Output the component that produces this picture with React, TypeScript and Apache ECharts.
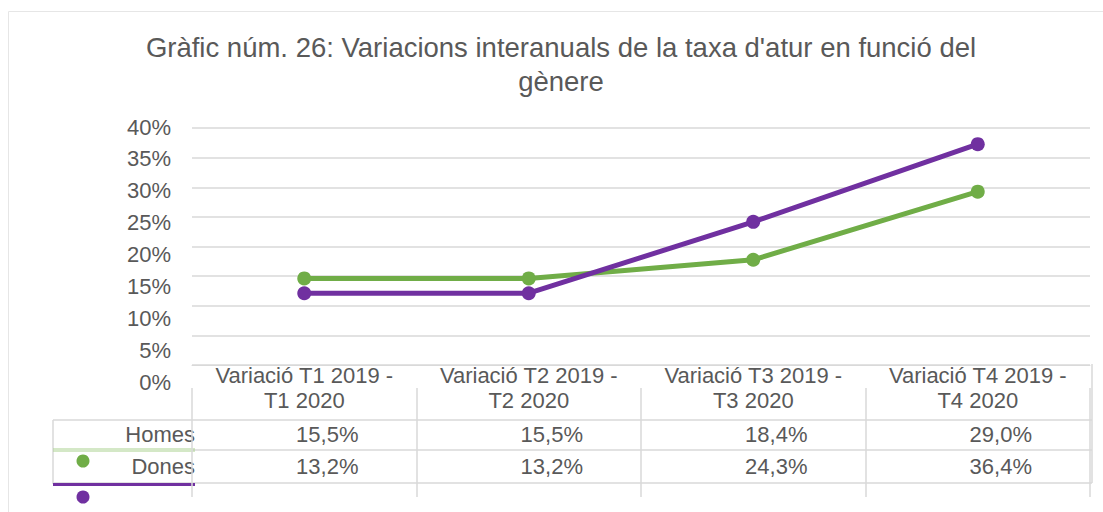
import React, { useEffect, useRef } from "react";
import * as echarts from "echarts";

const titleText = "Gràfic núm. 26: Variacions interanuals de la taxa d'atur en funció del\ngènere";
const categories = [
  "Variació T1 2019 -\nT1 2020",
  "Variació T2 2019 -\nT2 2020",
  "Variació T3 2019 -\nT3 2020",
  "Variació T4 2019 -\nT4 2020",
];
const seriesNames = ["Homes", "Dones"];
const homesValues = [15.5, 15.5, 18.4, 29.0];
const donesValues = [13.2, 13.2, 24.3, 36.4];
const yMin = 0;
const yMax = 40;
const yStep = 5;

const GREEN = "#70AD47";
const PURPLE = "#7030A0";
const TEXT = "#595959";
const GRIDC = "#d9d9d9";
const FONT = "'Liberation Sans', Arial, sans-serif";

const fmt = (v: number) => v.toFixed(1).replace(".", ",") + "%";

export default function App() {
  const ref = useRef<HTMLDivElement>(null);
  useEffect(() => {
    document.body.style.margin = "0";
    if (!ref.current) return;
    const chart = echarts.init(ref.current, undefined, { renderer: "svg" });
    const option: any = {
      animation: false,
      backgroundColor: "#ffffff",
      textStyle: { fontFamily: FONT },
      title: {
        text: titleText,
        left: 556,
        top: 25,
        textAlign: "center",
        textStyle: { color: TEXT, fontSize: 27.5, fontWeight: "normal", lineHeight: 34, fontFamily: FONT },
      },
      grid: [
        { left: 192, right: 13, top: 128, height: 237 },
        { left: 192, right: 13, top: 127, height: 255 },
        { left: 192, right: 13, top: 388, height: 109 },
        { left: 192, right: 13, top: 121, height: 257 },
      ],
      xAxis: [
        {
          gridIndex: 0,
          type: "category",
          data: categories,
          boundaryGap: true,
          axisLine: { show: true, lineStyle: { color: GRIDC, width: 1 } },
          axisTick: { show: false },
          axisLabel: { color: TEXT, fontSize: 22, lineHeight: 25, margin: -2, fontFamily: FONT, interval: 0 },
        },
        {
          gridIndex: 0,
          type: "category",
          data: homesValues.map(fmt),
          position: "bottom",
          axisLine: { show: false },
          axisTick: { show: false },
          axisLabel: { color: TEXT, fontSize: 22, lineHeight: 22, margin: 58, padding: [0, 0, 0, 46], fontFamily: FONT, interval: 0 },
        },
        {
          gridIndex: 0,
          type: "category",
          data: donesValues.map(fmt),
          position: "bottom",
          axisLine: { show: false },
          axisTick: { show: false },
          axisLabel: { color: TEXT, fontSize: 22, lineHeight: 22, margin: 90, padding: [0, 0, 0, 46], fontFamily: FONT, interval: 0 },
        },
        {
          gridIndex: 1,
          type: "category",
          data: categories,
          show: false,
        },
        {
          gridIndex: 2,
          type: "category",
          data: categories,
          axisLine: { show: false },
          axisTick: { show: false },
          axisLabel: { show: false },
          splitLine: { show: true, lineStyle: { color: GRIDC, width: 1.5 } },
        },
        {
          gridIndex: 3,
          type: "category",
          data: categories,
          boundaryGap: true,
          show: false,
        },
      ],
      yAxis: [
        {
          gridIndex: 0,
          type: "value",
          min: yMin,
          max: yMax,
          interval: yStep,
          axisLabel: { show: false },
          axisLine: { show: false },
          axisTick: { show: false },
          splitLine: { show: true, lineStyle: { color: GRIDC, width: 1.5 } },
        },
        {
          gridIndex: 1,
          type: "value",
          min: yMin,
          max: yMax,
          interval: yStep,
          axisLabel: { show: true, color: TEXT, fontSize: 22, margin: 21, formatter: "{value}%", fontFamily: FONT },
          axisLine: { show: false },
          axisTick: { show: false },
          splitLine: { show: false },
        },
        {
          gridIndex: 2,
          type: "value",
          show: false,
          splitLine: { show: false },
        },
        {
          gridIndex: 3,
          type: "value",
          min: yMin,
          max: yMax,
          interval: yStep,
          show: false,
          splitLine: { show: false },
        },
      ],
      series: [
        {
          name: seriesNames[0],
          type: "line",
          xAxisIndex: 5,
          yAxisIndex: 3,
          data: homesValues,
          symbol: "circle",
          symbolSize: 14,
          itemStyle: { color: GREEN },
          lineStyle: { color: GREEN, width: 5 },
        },
        {
          name: seriesNames[1],
          type: "line",
          xAxisIndex: 5,
          yAxisIndex: 3,
          data: donesValues,
          symbol: "circle",
          symbolSize: 14,
          itemStyle: { color: PURPLE },
          lineStyle: { color: PURPLE, width: 5 },
        },
      ],
      graphic: [
        { type: "rect", shape: { x: 8.5, y: 11.5, width: 1200, height: 600 }, style: { fill: "none", stroke: "#e6e6e6", lineWidth: 1 }, silent: true },
        { type: "line", shape: { x1: 53, y1: 420, x2: 1092, y2: 420 }, style: { stroke: GRIDC, lineWidth: 1.5 } },
        { type: "line", shape: { x1: 193, y1: 450, x2: 1092, y2: 450 }, style: { stroke: GRIDC, lineWidth: 1.5 } },
        { type: "line", shape: { x1: 53, y1: 483, x2: 1092, y2: 483 }, style: { stroke: GRIDC, lineWidth: 1.5 } },
        { type: "line", shape: { x1: 53, y1: 420, x2: 53, y2: 484 }, style: { stroke: GRIDC, lineWidth: 1.5 } },
        { type: "line", shape: { x1: 1092, y1: 364, x2: 1092, y2: 483 }, style: { stroke: GRIDC, lineWidth: 1.5 } },
        { type: "text", x: 195, y: 434, style: { text: seriesNames[0], fill: TEXT, fontSize: 22, fontFamily: FONT, textAlign: "right", textVerticalAlign: "middle" } },
        { type: "text", x: 195, y: 466, style: { text: seriesNames[1], fill: TEXT, fontSize: 22, fontFamily: FONT, textAlign: "right", textVerticalAlign: "middle" } },
        { type: "line", shape: { x1: 53, y1: 449, x2: 195, y2: 449 }, style: { stroke: "#a9d18e", lineWidth: 1 } },
        { type: "line", shape: { x1: 53, y1: 451, x2: 195, y2: 451 }, style: { stroke: "#a9d18e", lineWidth: 1 } },
        { type: "circle", shape: { cx: 83, cy: 461, r: 6.5 }, style: { fill: GREEN } },
        { type: "line", shape: { x1: 53, y1: 484.5, x2: 195, y2: 484.5 }, style: { stroke: PURPLE, lineWidth: 3 } },
        { type: "circle", shape: { cx: 83, cy: 497, r: 6.5 }, style: { fill: PURPLE } },
      ],
    };
    chart.setOption(option);
    return () => chart.dispose();
  }, []);
  return <div ref={ref} style={{ width: 1103, height: 512 }} />;
}
